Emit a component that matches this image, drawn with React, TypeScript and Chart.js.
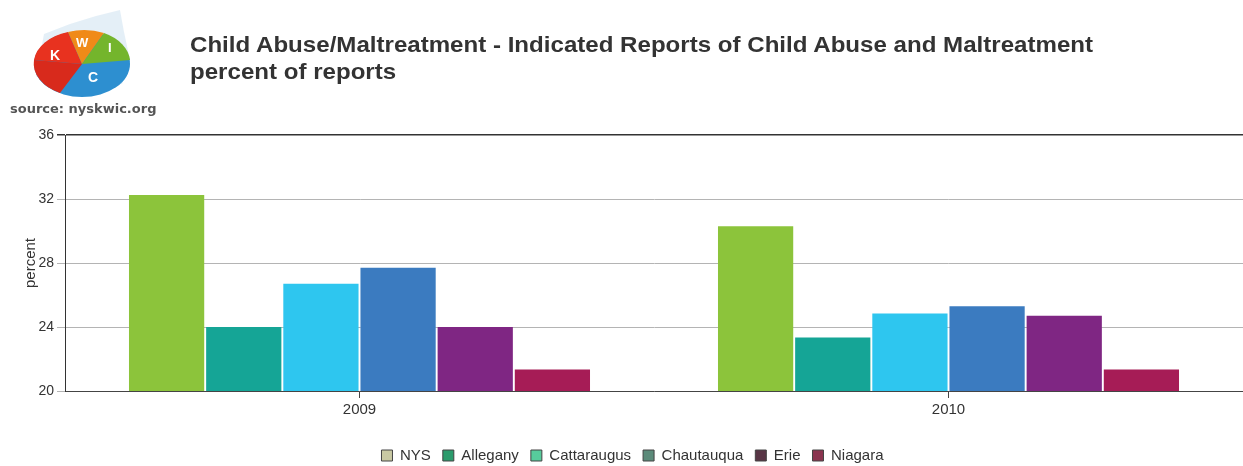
import React, { useEffect, useRef } from "react";
import { Chart, registerables } from "chart.js";

Chart.register(...registerables);

const categories = ["2009", "2010"];
const seriesNames = ["NYS", "Allegany", "Cattaraugus", "Chautauqua", "Erie", "Niagara"];
const nysValues = [32.25, 30.3];
const alleganyValues = [24.0, 23.35];
const cattaraugusValues = [26.7, 24.85];
const chautauquaValues = [27.7, 25.3];
const erieValues = [24.0, 24.7];
const niagaraValues = [21.35, 21.35];
const yTicks = [20, 24, 28, 32, 36];

const barColors = ["#8cc43b", "#15a596", "#2ec6ef", "#3b7bc0", "#7f2683", "#a61c56"];
const legendColors = ["#c9c9a3", "#2b9b6c", "#57cc9c", "#5c8b7a", "#583545", "#8a344f"];

const FONT = "'Liberation Sans', Arial, sans-serif";

function Logo() {
  return (
    <svg width="170" height="125" style={{ position: "absolute", left: 0, top: 0 }}>
      <path d="M36 76 L44 34 L70 24 L96 16 L120 10 L124 32 L130 60 L122 84 L60 90 Z" fill="#d8e8f4" opacity="0.7" />
      <g>
        <ellipse cx="82" cy="64" rx="48" ry="33" fill="#2d8fd0" />
        <path d="M82 64 L34 60 A48 33 0 0 1 68 32 Z" fill="#e8321f" />
        <path d="M82 64 L68 32 A48 33 0 0 1 104 33 Z" fill="#f08a18" />
        <path d="M82 64 L104 33 A48 33 0 0 1 130 60 Z" fill="#74b52c" />
        <path d="M82 64 L34 60 A48 33 0 0 0 60 93 Z" fill="#d82a1c" />
        <text x="50" y="60" fill="#fff" fontFamily={FONT} fontWeight="bold" fontSize="14">K</text>
        <text x="76" y="47" fill="#fff" fontFamily={FONT} fontWeight="bold" fontSize="13">W</text>
        <text x="108" y="52" fill="#fff" fontFamily={FONT} fontWeight="bold" fontSize="13">I</text>
        <text x="88" y="82" fill="#fff" fontFamily={FONT} fontWeight="bold" fontSize="14">C</text>
      </g>
      <text x="10" y="113" fill="#555" fontFamily="'DejaVu Sans', sans-serif" fontWeight="bold" fontSize="13">source: nyskwic.org</text>
    </svg>
  );
}

export default function App() {
  const canvasRef = useRef<HTMLCanvasElement | null>(null);

  useEffect(() => {
    const canvas = canvasRef.current;
    if (!canvas) return;
    const values = [nysValues, alleganyValues, cattaraugusValues, chautauquaValues, erieValues, niagaraValues];
    const chart = new Chart(canvas, {
      type: "bar",
      data: {
        labels: categories,
        datasets: seriesNames.map((name, i) => ({
          label: name,
          data: values[i],
          backgroundColor: barColors[i],
          borderWidth: 0,
          categoryPercentage: 0.786,
          barPercentage: 0.975,
        })),
      },
      options: {
        animation: false,
        responsive: false,
        maintainAspectRatio: false,
        layout: { padding: { top: 135, left: 22, right: 0, bottom: -7 } },
        plugins: {
          title: { display: false },
          tooltip: { enabled: false },
          legend: {
            display: true,
            position: "bottom",
            labels: {
              boxWidth: 11,
              boxHeight: 11,
              padding: 12,
              color: "#333",
              font: { family: FONT, size: 15 },
              generateLabels: () =>
                seriesNames.map((name, i) => ({
                  text: name,
                  fillStyle: legendColors[i],
                  strokeStyle: "#444",
                  lineWidth: 1,
                  fontColor: "#333",
                  hidden: false,
                  datasetIndex: i,
                })),
            },
          },
        },
        scales: {
          x: {
            type: "category",
            offset: true,
            grid: {
              display: true,
              drawOnChartArea: false,
              offset: false,
              tickLength: 7,
              color: "#444",
            },
            border: { display: true, color: "#444", width: 1 },
            ticks: { color: "#333", font: { family: FONT, size: 15 }, padding: 3 },
            afterFit: (scale: any) => {
              scale.height = 45;
            },
          },
          y: {
            min: 20,
            max: 36,
            afterBuildTicks: (scale: any) => {
              scale.ticks = yTicks.map((v) => ({ value: v }));
            },
            grid: {
              color: (ctx: any) => (ctx.tick && ctx.tick.value === 36 ? "#333" : "#b4b4b4"),
              tickLength: 8,
              lineWidth: (ctx: any) => (ctx.tick && ctx.tick.value === 36 ? 1.5 : 1),
            },
            border: { display: true, color: "#333", width: 1 },
            ticks: { color: "#333", font: { family: FONT, size: 14 }, padding: 3 },
            title: {
              display: true,
              text: "percent",
              color: "#333",
              font: { family: FONT, size: 15 },
              padding: 0,
            },
            afterFit: (scale: any) => {
              scale.width = 43;
            },
          },
        },
      },
    });
    return () => chart.destroy();
  }, []);

  return (
    <div style={{ position: "fixed", left: 0, top: 0, width: 1243, height: 466, background: "#fff" }}>
      <canvas ref={canvasRef} width={1243} height={466} style={{ position: "absolute", left: 0, top: 0 }} />
      <Logo />
      <div
        style={{
          position: "absolute",
          left: 190,
          top: 31,
          fontFamily: FONT,
          fontWeight: "bold",
          fontSize: 22,
          lineHeight: "27px",
          color: "#333",
          whiteSpace: "nowrap",
          transform: "scaleX(1.095)",
          transformOrigin: "left top",
        }}
      >
        Child Abuse/Maltreatment - Indicated Reports of Child Abuse and Maltreatment
        <br />
        percent of reports
      </div>
    </div>
  );
}
